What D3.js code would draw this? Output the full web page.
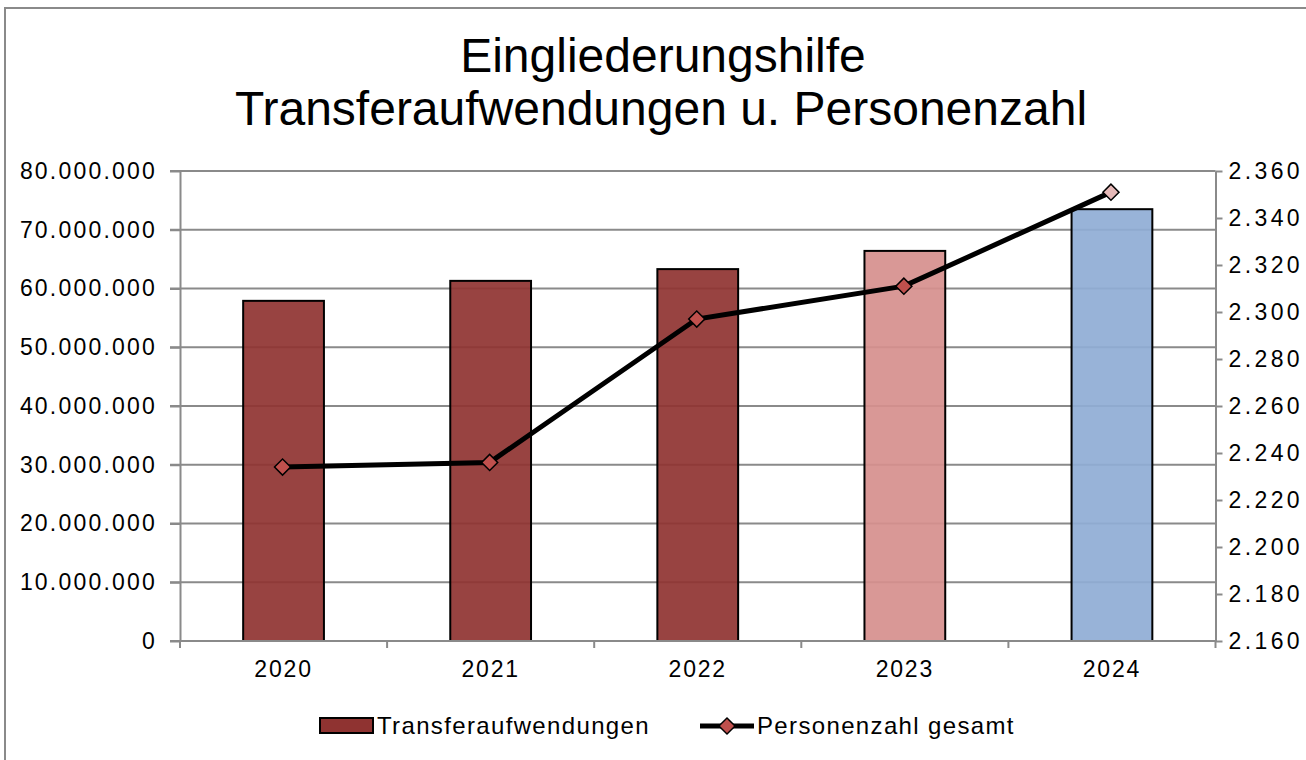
<!DOCTYPE html>
<html>
<head>
<meta charset="utf-8">
<script src="https://cdn.jsdelivr.net/npm/d3@7"></script>
<style>
  body { margin: 0; background: #fff; }
  text { font-family: "Liberation Sans", Arial, sans-serif; fill: #000; }
</style>
</head>
<body>
<div class="canvas"></div>
<script>
// data
const years = ['2020', '2021', '2022', '2023', '2024'];
const transfer = [57900000, 61300000, 63300000, 66400000, 73500000];
const personen = [2234, 2236, 2297, 2311, 2351];
const leftTicks = [0, 10e6, 20e6, 30e6, 40e6, 50e6, 60e6, 70e6, 80e6];
const rightTicks = [2160, 2180, 2200, 2220, 2240, 2260, 2280, 2300, 2320, 2340, 2360];

// styles
const barFill = ['#8f3331', '#8f3331', '#8f3331', '#d68f8d', '#8fadd5'];
const markerFill = ['#c0504d', '#c0504d', '#c0504d', '#c0504d', '#e6b9b8'];
const gray = '#8a8a8a';

const width = 1306, height = 760;
const plot = { left: 180, right: 1215.5, top: 171, bottom: 641 };

const de = d3.formatLocale({ decimal: ',', thousands: '.', grouping: [3], currency: ['', '€'] });
const fmt = de.format(',.0f');

//Canvas
const svg = d3.select('.canvas')
  .append('svg')
  .attr('width', width)
  .attr('height', height);

// chart frame
svg.append('rect')
  .attr('x', 5).attr('y', 8)
  .attr('width', 1400).attr('height', 800)
  .attr('fill', 'none')
  .attr('stroke', gray)
  .attr('stroke-width', 2);

// title
const title = svg.append('text')
  .attr('text-anchor', 'middle')
  .attr('font-size', 48);
title.append('tspan').attr('x', 663).attr('y', 72).text('Eingliederungshilfe');
title.append('tspan').attr('x', 661).attr('y', 125).text('Transferaufwendungen u. Personenzahl');

// scales
const x = d3.scaleBand().domain(years).range([plot.left, plot.right]);
const yL = d3.scaleLinear().domain([0, 80e6]).range([plot.bottom, plot.top]);
const yR = d3.scaleLinear().domain([2160, 2360]).range([plot.bottom, plot.top]);

// gridlines
svg.append('g')
  .selectAll('line')
  .data(leftTicks.slice(1))
  .enter()
  .append('line')
  .attr('x1', plot.left - 10)
  .attr('x2', plot.right)
  .attr('y1', (d) => yL(d))
  .attr('y2', (d) => yL(d))
  .attr('stroke', gray)
  .attr('stroke-width', 2);

// bars
const barW = x.bandwidth() * 0.39;
svg.append('g')
  .selectAll('rect')
  .data(transfer)
  .enter()
  .append('rect')
  .attr('x', (d, i) => x(years[i]) + (x.bandwidth() - barW) / 2)
  .attr('y', (d) => yL(d))
  .attr('width', barW)
  .attr('height', (d) => yL(0) - yL(d))
  .attr('fill', (d, i) => barFill[i])
  .attr('fill-opacity', 0.92)
  .attr('stroke', '#000')
  .attr('stroke-width', 2);

// axes
const styleAxis = (g) => {
  g.selectAll('.domain').attr('stroke', gray).attr('stroke-width', 2);
  g.selectAll('.tick line').attr('stroke', gray).attr('stroke-width', 2);
  g.selectAll('text')
    .attr('font-size', 23)
    .attr('letter-spacing', 2.2)
    .attr('fill', '#000')
    .attr('font-family', '"Liberation Sans", Arial, sans-serif');
};

svg.append('g')
  .attr('transform', `translate(${plot.left},0)`)
  .call(d3.axisLeft(yL).tickValues(leftTicks).tickFormat(fmt).tickSize(10).tickSizeOuter(0).tickPadding(13))
  .call(styleAxis);

svg.append('g')
  .attr('transform', `translate(${plot.right},0)`)
  .call(d3.axisRight(yR).tickValues(rightTicks).tickFormat(fmt).tickSize(7).tickSizeOuter(0).tickPadding(6))
  .call(styleAxis)
  .selectAll('text').attr('letter-spacing', 3.4);

// x axis: ticks at category boundaries
const xAxis = svg.append('g')
  .attr('transform', `translate(0,${plot.bottom})`)
  .call(d3.axisBottom(x).tickSize(0).tickSizeOuter(0).tickPadding(20))
  .call(styleAxis);
xAxis.selectAll('text').attr('letter-spacing', 1.8);
xAxis.selectAll('.domain').attr('d', `M${plot.left - 10},0H${plot.right}`);
xAxis.append('g')
  .selectAll('line')
  .data(years.map((d) => x(d)).concat([plot.right]))
  .enter()
  .append('line')
  .attr('x1', (d) => d).attr('x2', (d) => d)
  .attr('y1', 0).attr('y2', 7)
  .attr('stroke', gray)
  .attr('stroke-width', 2);

// line series
const cx = (i) => x(years[i]) + x.bandwidth() / 2 - 1;
const line = d3.line()
  .x((d, i) => cx(i))
  .y((d) => yR(d));

svg.append('path')
  .datum(personen)
  .attr('d', line)
  .attr('fill', 'none')
  .attr('stroke', '#000')
  .attr('stroke-width', 5);

const diamond = d3.symbol().type(d3.symbolSquare).size(130);
svg.append('g')
  .selectAll('path')
  .data(personen)
  .enter()
  .append('path')
  .attr('d', diamond)
  .attr('transform', (d, i) => `translate(${cx(i)},${yR(d)}) rotate(45)`)
  .attr('fill', (d, i) => markerFill[i])
  .attr('stroke', '#000')
  .attr('stroke-width', 1.5);

// legend
const legend = svg.append('g');
legend.append('rect')
  .attr('x', 320).attr('y', 718)
  .attr('width', 53).attr('height', 15)
  .attr('fill', barFill[0])
  .attr('stroke', '#000')
  .attr('stroke-width', 2);
legend.append('text')
  .attr('x', 377).attr('y', 734)
  .attr('font-size', 24)
  .attr('letter-spacing', 1.35)
  .text('Transferaufwendungen');
legend.append('line')
  .attr('x1', 700).attr('x2', 754)
  .attr('y1', 726).attr('y2', 726)
  .attr('stroke', '#000')
  .attr('stroke-width', 5);
legend.append('path')
  .attr('d', diamond)
  .attr('transform', 'translate(727,726) rotate(45)')
  .attr('fill', '#c0504d')
  .attr('stroke', '#000')
  .attr('stroke-width', 1.5);
legend.append('text')
  .attr('x', 757).attr('y', 734)
  .attr('font-size', 24)
  .attr('letter-spacing', 1.35)
  .text('Personenzahl gesamt');
</script>
</body>
</html>
